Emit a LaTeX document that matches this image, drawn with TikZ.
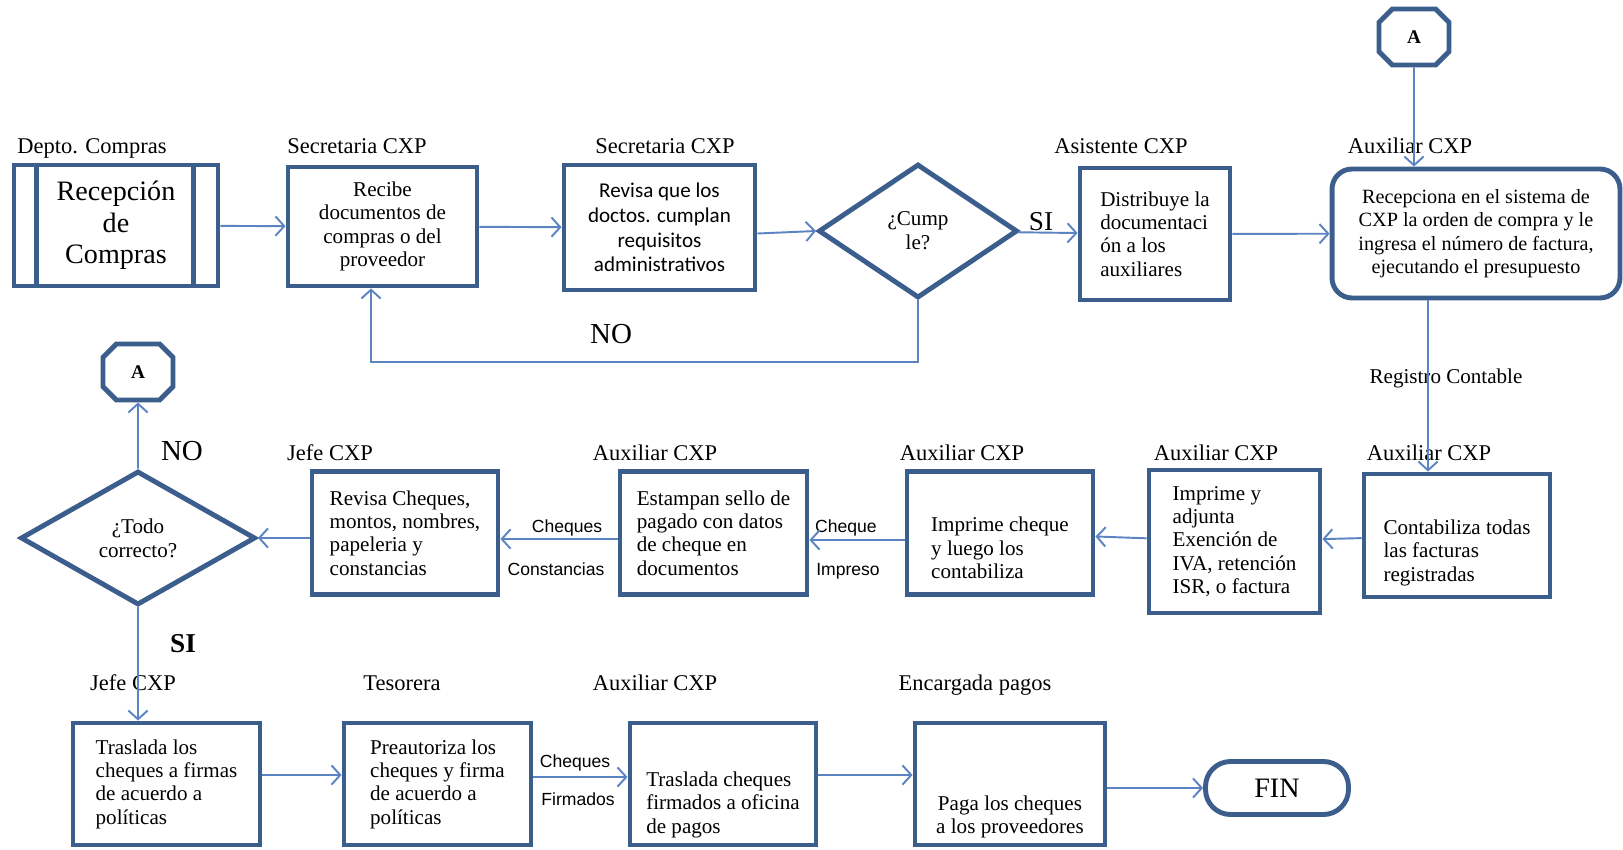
\documentclass[tikz,border=0pt]{standalone}
\usepackage{fontspec}
\setmainfont{Liberation Serif}
\newfontfamily\calibri{Carlito}
\newfontfamily\arial{Liberation Sans}
\usetikzlibrary{shapes.geometric,shapes.misc,arrows.meta}
\definecolor{azulcaja}{RGB}{60,94,140}
\definecolor{azulflecha}{RGB}{92,132,194}
% baja el texto dentro de la caja sin mover la caja
\newcommand\bajo[2]{\raisebox{-#1}[\height][\depth]{#2}}
\tikzset{
  caja/.style={draw=azulcaja,line width=2.8pt,fill=white,align=center,inner sep=2pt,
    font=\fontsize{12}{13.3}\selectfont},
  decision/.style={diamond,draw=azulcaja,line width=2.8pt,fill=white,align=center,inner sep=0pt,
    font=\fontsize{12}{13.5}\selectfont},
  conector/.style={chamfered rectangle,chamfered rectangle sep=0.36cm,minimum width=1.4cm,minimum height=1.12cm,
    inner sep=0pt,draw=azulcaja,line width=2.8pt,font=\bfseries\fontsize{11}{13}\selectfont},
  rol/.style={anchor=base,inner sep=0pt,font=\fontsize{12.8}{15}\selectfont},
  etq/.style={anchor=base,inner sep=0pt,font=\arial\fontsize{10}{12}\selectfont},
  flecha/.style={draw=azulflecha,line width=1.1pt,-{Straight Barb[length=5pt,width=11pt]}}
}
\begin{document}
\begin{tikzpicture}[x=0.02cm,y=-0.02cm]
    \useasboundingbox (0,0) rectangle (1623,849);
    \clip (0,0) rectangle (1623,849);
    \fill[white] (0,0) rectangle (1623,849);

    % Fila superior
    \node[caja,minimum width=4.08cm,minimum height=2.42cm,font=\fontsize{16}{18}\selectfont] (rec) at (116,225.5) {Recepción\\de\\Compras};
    \draw[draw=azulcaja,line width=2.8pt] ([xshift=0.5cm]rec.north west) -- ([xshift=0.5cm]rec.south west);
    \draw[draw=azulcaja,line width=2.8pt] ([xshift=-0.54cm]rec.north east) -- ([xshift=-0.54cm]rec.south east);
    \node[caja,minimum width=3.78cm,minimum height=2.38cm] (recibe) at (382.5,226.5) {Recibe\\documentos de\\compras o del\\proveedor};
    \node[caja,minimum width=3.82cm,minimum height=2.5cm,font=\calibri\fontsize{12}{14}\selectfont] (revisa) at (659.5,227.5) {Revisa que los\\doctos. cumplan\\requisitos\\administrativos};
    \node[decision,minimum width=3.98cm,minimum height=2.68cm] (cumple) at (918,231) {¿Cump\\le?};
    \node[caja,minimum width=3cm,minimum height=2.64cm,align=left] (distribuye) at (1155,234) {Distribuye la\\documentaci\\ón a los\\auxiliares};
    \node[caja,rounded corners=0.4cm,minimum width=5.76cm,minimum height=2.58cm,font=\fontsize{11.5}{13.3}\selectfont] (recepciona) at (1476,233.5) {Recepciona en el sistema de\\CXP la orden de compra y le\\ingresa el número de factura,\\ejecutando el presupuesto};
    \node[conector] (conA1) at (1414,37) {A};

    \node[rol] (rolRec) at (92,153) {Depto. Compras};
    \node[rol] (rolRecibe) at (357,153) {Secretaria CXP};
    \node[rol] (rolRevisa) at (665,153) {Secretaria CXP};
    \node[rol] (rolDistribuye) at (1121,153) {Asistente CXP};
    \node[rol] (rolRecepciona) at (1410,153) {Auxiliar CXP};
    \node[rol,font=\fontsize{15.5}{17}\selectfont] (si1) at (1041,230) {SI};
    \node[rol,font=\fontsize{16.5}{18}\selectfont] (no1) at (611,343) {NO};
    \node[rol,font=\fontsize{12}{14}\selectfont] (regCont) at (1446,383) {Registro Contable};

    \draw[flecha] (rec) -- (recibe);
    \draw[flecha] (recibe) -- (revisa);
    \draw[flecha] ([yshift=-0.12cm]revisa.east) -- (cumple.west);
    \draw[flecha] (cumple) -- (distribuye);
    \draw[flecha] (distribuye) -- (recepciona);
    \draw[flecha] (conA1) -- (conA1 |- recepciona.north);
    \coordinate (regC) at (1428,0);
    \coordinate (vuelta) at (371,362);
    \draw[flecha] (cumple.south) |- (vuelta) -- (vuelta |- recibe.south);

    % Fila del medio
    \node[conector] (conA2) at (138,372) {A};
    \node[decision,minimum width=4.7cm,minimum height=2.68cm] (todo) at (138,538) {¿Todo\\correcto?};
    \node[caja,minimum width=3.72cm,minimum height=2.46cm,align=left] (revisaCh) at (405,533) {Revisa Cheques,\\montos, nombres,\\papeleria y\\constancias};
    \node[caja,minimum width=3.74cm,minimum height=2.46cm,align=left] (estampan) at (713.5,533) {Estampan sello de\\pagado con datos\\de cheque en\\documentos};
    \node[caja,minimum width=3.72cm,minimum height=2.46cm] (imprimeCh) at (1000,533) {\bajo{10pt}{\begin{tabular}{@{}l@{}}Imprime cheque\\y luego los\\contabiliza\end{tabular}}};
    \node[caja,minimum width=3.42cm,minimum height=2.86cm,align=left] (imprimeAdj) at (1234.5,541.5) {Imprime y\\adjunta\\Exención de\\IVA, retención\\ISR, o factura};
    \node[caja,minimum width=3.72cm,minimum height=2.46cm] (contabiliza) at (1457,535.5) {\bajo{10pt}{\begin{tabular}{@{}l@{}}Contabiliza todas\\las facturas\\registradas\end{tabular}}};

    \node[rol] (rolRevisaCh) at (330,460) {Jefe CXP};
    \node[rol] (rolEstampan) at (655,460) {Auxiliar CXP};
    \node[rol] (rolImprimeCh) at (962,460) {Auxiliar CXP};
    \node[rol] (rolImprimeAdj) at (1216,460) {Auxiliar CXP};
    \node[rol] (rolContabiliza) at (1429,460) {Auxiliar CXP};
    \node[rol,font=\fontsize{16.5}{18}\selectfont] (no2) at (182,460) {NO};
    \node[etq] (etqCheques) at (567,532) {Cheques};
    \node[etq] (etqConstancias) at (556,575) {Constancias};
    \node[etq] (etqCheque) at (846,532) {Cheque};
    \node[etq] (etqImpreso) at (848,575) {Impreso};

    \draw[flecha] (recepciona.south -| regC) -- (contabiliza.north -| regC);
    \draw[flecha] (contabiliza) -- (imprimeAdj);
    \draw[flecha] (imprimeAdj) -- (imprimeCh);
    \draw[flecha] ([yshift=-0.14cm]imprimeCh.west) -- ([yshift=-0.14cm]estampan.east);
    \draw[flecha] ([yshift=-0.12cm]estampan.west) -- ([yshift=-0.12cm]revisaCh.east);
    \draw[flecha] (revisaCh.west |- todo) -- (todo);
    \draw[flecha] (todo) -- (conA2);

    % Fila inferior
    \node[caja,minimum width=3.74cm,minimum height=2.44cm,align=left] (traslada) at (166.5,784) {Traslada los\\cheques a firmas\\de acuerdo a\\políticas};
    \node[caja,minimum width=3.74cm,minimum height=2.44cm,align=left] (preautoriza) at (437.5,784) {Preautoriza los\\cheques y firma\\de acuerdo a\\políticas};
    \node[caja,minimum width=3.72cm,minimum height=2.44cm] (trasladaCh) at (723,784) {\bajo{12pt}{\begin{tabular}{@{}l@{}}Traslada cheques\\firmados a oficina\\de pagos\end{tabular}}};
    \node[caja,minimum width=3.8cm,minimum height=2.44cm] (paga) at (1010,784) {\bajo{19pt}{\begin{tabular}{@{}c@{}}Paga los cheques\\a los proveedores\end{tabular}}};
    \node[caja,rounded corners=0.5cm,minimum width=2.86cm,minimum height=1.06cm,font=\fontsize{16}{18}\selectfont] (fin) at (1277,788) {FIN};

    \node[rol] (rolTraslada) at (133,690) {Jefe CXP};
    \node[rol] (rolPreautoriza) at (402,690) {Tesorera};
    \node[rol] (rolTrasladaCh) at (655,690) {Auxiliar CXP};
    \node[rol] (rolPaga) at (975,690) {Encargada pagos};
    \node[rol,font=\bfseries\fontsize{15.5}{17}\selectfont] (si2) at (183,652) {SI};
    \node[etq] (etqCheques2) at (575,767) {Cheques};
    \node[etq] (etqFirmados) at (578,805) {Firmados};

    \draw[flecha] (todo) -- (todo |- traslada.north);
    \draw[flecha] ([yshift=0.18cm]traslada.east) -- ([yshift=0.18cm]preautoriza.west);
    \draw[flecha] ([yshift=0.14cm]preautoriza.east) -- ([yshift=0.14cm]trasladaCh.west);
    \draw[flecha] ([yshift=0.18cm]trasladaCh.east) -- ([yshift=0.18cm]paga.west);
    \draw[flecha] (paga.east |- fin) -- (fin);
\end{tikzpicture}
\end{document}
